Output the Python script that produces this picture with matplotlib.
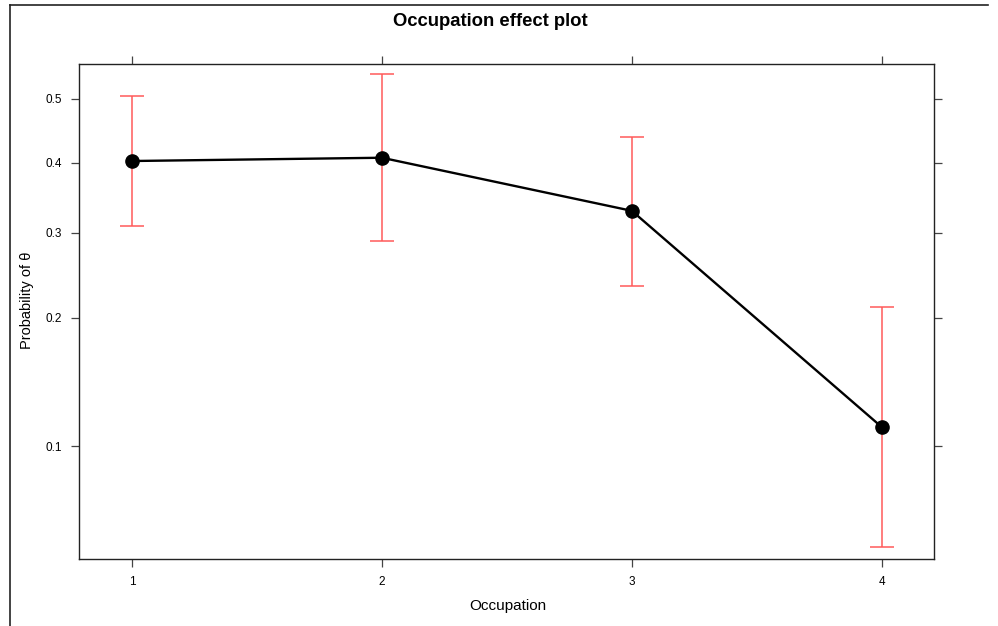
import matplotlib
matplotlib.use("Agg")
import matplotlib.pyplot as plt
from matplotlib.lines import Line2D
from matplotlib.ticker import FixedLocator, FixedFormatter, NullLocator

plt.rcParams['font.family'] = ['Liberation Sans', 'DejaVu Sans']

occupation = [1, 2, 3, 4]
fit = [0.403, 0.408, 0.330, 0.1114]
lower = [0.309, 0.289, 0.234, 0.0555]
upper = [0.505, 0.539, 0.440, 0.211]
yticks = [0.1, 0.2, 0.3, 0.4, 0.5]
ytick_labels = ['0.1', '0.2', '0.3', '0.4', '0.5']

W, H = 998, 626
fig = plt.figure(figsize=(W / 100, H / 100), dpi=100)
ax = fig.add_axes([79 / W, 1 - 559 / H, (934 - 79) / W, (559 - 64) / H])

# confidence bands, then the effect line
yerr = [[f - lo for f, lo in zip(fit, lower)], [up - f for f, up in zip(fit, upper)]]
ax.errorbar(occupation, fit, yerr=yerr, fmt='none', ecolor='#ff5a5a',
            elinewidth=1.1, capsize=8.3, capthick=1.1, zorder=2)
ax.plot(occupation, fit, color='black', lw=1.7, marker='o', ms=9.5, zorder=3)

ax.set_yscale('logit')
ax.set_ylim(0.0516, 0.555)
ax.set_xlim(0.788, 4.209)
ax.yaxis.set_major_locator(FixedLocator(yticks))
ax.yaxis.set_major_formatter(FixedFormatter(ytick_labels))
ax.yaxis.set_minor_locator(NullLocator())
ax.set_xticks(occupation)
ax.set_xticklabels([str(o) for o in occupation])

ax.tick_params(direction='out', length=6, width=0.9, color='#444444', labelsize=8.5,
               top=True, right=True, pad=6)
for s in ax.spines.values():
    s.set_linewidth(1.0)
    s.set_color('#222222')

fig.text(490 / W, 1 - 22 / H, 'Occupation effect plot', ha='center', va='center',
         fontsize=13.3, fontweight='bold')
fig.text(508 / W, 1 - 606 / H, 'Occupation', ha='center', va='center', fontsize=11)
fig.text(27 / W, 1 - 300 / H, 'Probability of \u03b8', ha='center', va='center',
         fontsize=10.5, rotation=90)

# outer panel border
fig.add_artist(Line2D([9.5 / W, 988 / W], [1 - 5 / H, 1 - 5 / H], color='#222222', lw=1.2))
fig.add_artist(Line2D([9.5 / W, 9.5 / W], [1 - 5 / H, 0], color='#222222', lw=1.2))

fig.savefig('out.png', dpi=100)
